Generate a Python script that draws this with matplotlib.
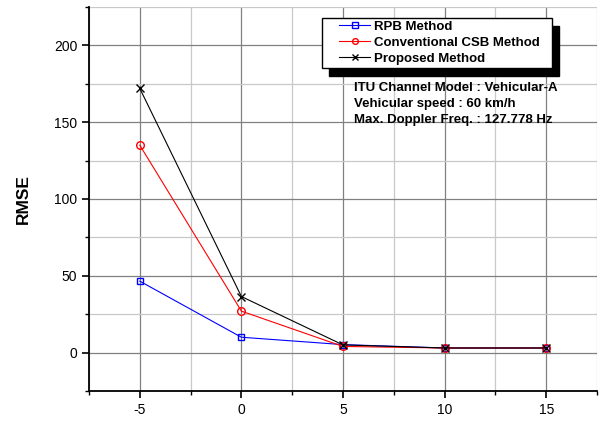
import numpy as np
import matplotlib
matplotlib.use("Agg")
import matplotlib.pyplot as plt
from matplotlib.ticker import MultipleLocator
from matplotlib.lines import Line2D
from matplotlib.legend_handler import HandlerLine2D

plt.rcParams['font.family'] = ['Liberation Sans', 'DejaVu Sans']
plt.rcParams['axes.unicode_minus'] = False

snr = [-5, 0, 5, 10, 15]
rpb = [46.5, 10, 5.2, 3, 3]
csb = [135, 27, 4, 3, 3]
proposed = [172, 36.5, 5, 3, 3]
notes = ["ITU Channel Model : Vehicular-A",
         "Vehicular speed : 60 km/h",
         "Max. Doppler Freq. : 127.778 Hz"]

fig = plt.figure(figsize=(6.16, 4.21), dpi=100)
ax = fig.add_axes([89/616, 1-391/421, (597-89)/616, (391-7)/421])

ax.plot(snr, rpb, color='blue', lw=0.8, marker='s', ms=5, mfc='none', mec='blue', label='RPB Method', zorder=3)
ax.plot(snr, csb, color='red', lw=0.8, marker='o', ms=5.5, mfc='none', mec='red', label='Conventional CSB Method', zorder=3)
ax.plot(snr, proposed, color='black', lw=0.8, marker='x', ms=5.5, mec='black', label='Proposed Method', zorder=3)

ax.set_xlim(-7.5, 17.5)
ax.set_ylim(-25, 225)
ax.xaxis.set_major_locator(MultipleLocator(5))
ax.xaxis.set_minor_locator(MultipleLocator(2.5))
ax.yaxis.set_major_locator(MultipleLocator(50))
ax.yaxis.set_minor_locator(MultipleLocator(25))
ax.set_yticks([0, 50, 100, 150, 200])
ax.grid(which='major', color='#808080', lw=0.9, zorder=0)
ax.grid(which='minor', color='#c8c8c8', lw=0.9, zorder=0)
ax.set_axisbelow(True)
for s in ['top', 'right']:
    ax.spines[s].set_visible(False)
for s in ['left', 'bottom']:
    ax.spines[s].set_linewidth(1.3)
ax.tick_params(which='major', direction='out', length=5, width=1.2, labelsize=10)
ax.tick_params(which='minor', direction='out', length=3, width=1.0)
ax.set_ylabel('RMSE', fontsize=12.5, fontweight='bold')
ax.yaxis.set_label_coords(-0.114, 0.5)

top = 1 - 17.5/421
leg = ax.legend(loc='upper left', bbox_to_anchor=(322/616, top - 0.1, (552-322)/616, 0.1),
                bbox_transform=fig.transFigure, mode='expand',
                borderaxespad=0, fancybox=False, framealpha=1, edgecolor='black',
                prop={'weight': 'bold', 'size': 9.5}, handlelength=3.39, handletextpad=0.31,
                labelspacing=0.28, borderpad=0.25, markerscale=0.75,
                handler_map={Line2D: HandlerLine2D(xpad=1.04)},
                shadow={'ox': 5, 'oy': -5.8, 'color': 'black', 'alpha': 1})
leg.get_frame().set_linewidth(1.0)

for i, t in enumerate(notes):
    fig.text(354/616, 1-(88+16*i)/421, t, fontsize=9.5, fontweight='bold', va='center', ha='left')

fig.savefig('out.png', dpi=100)
